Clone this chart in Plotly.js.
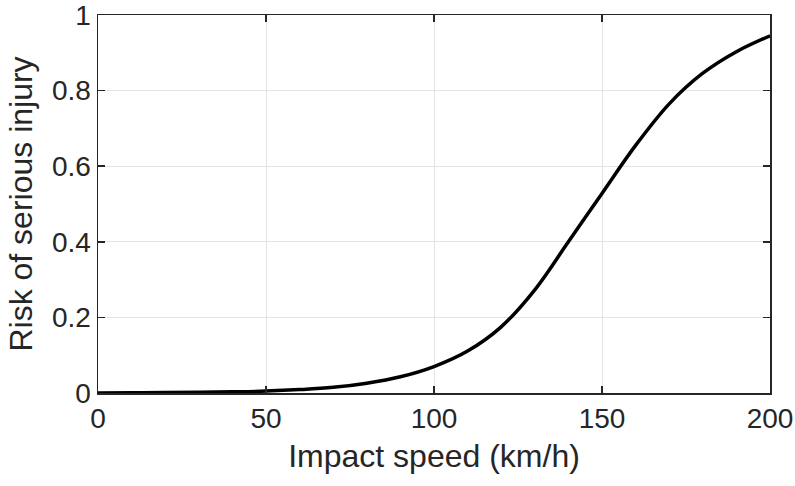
<!DOCTYPE html>
<html>
<head>
<meta charset="utf-8">
<script src="https://cdn.plot.ly/plotly-3.0.1.min.js"></script>
<style>html,body{margin:0;padding:0;background:#fff;}#chart{width:795px;height:486px;}</style>
</head>
<body>
<div id="chart"></div>
<script>
// Impact speed (km/h) and risk of serious injury
const speed = [0, 10, 20, 30, 40, 50, 60, 70, 80, 90, 100, 110, 120, 130, 140, 150, 160, 170, 180, 190, 200];
const risk  = [0.0003, 0.0006, 0.001, 0.0017, 0.003, 0.005, 0.009, 0.015, 0.026, 0.043, 0.070, 0.111, 0.175, 0.273, 0.400, 0.528, 0.655, 0.765, 0.846, 0.903, 0.945];
const xTicks = [0, 50, 100, 150, 200];
const yTicks = [0, 0.2, 0.4, 0.6, 0.8, 1];

const axisColor = '#262626';
const font = 'Liberation Sans, Arial, sans-serif';
const trace = {
  x: speed, y: risk, type: 'scatter', mode: 'lines',
  line: {color: '#000000', width: 3.5, shape: 'spline', smoothing: 1},
  hoverinfo: 'skip'
};
const common = {
  showline: true, mirror: 'ticks', linecolor: axisColor, linewidth: 1.5,
  ticks: 'inside', ticklen: 7, tickwidth: 1.5, tickcolor: axisColor,
  showgrid: true, gridcolor: '#e3e3e3', gridwidth: 1,
  zeroline: false, ticklabeloverflow: 'allow',
  tickfont: {family: font, size: 28, color: axisColor}
};
const layout = {
  width: 795, height: 486,
  margin: {l: 98, r: 25, t: 15, b: 93},
  paper_bgcolor: '#ffffff', plot_bgcolor: '#ffffff',
  showlegend: false,
  xaxis: Object.assign({}, common, {
    range: [0, 200], tickvals: xTicks, ticktext: xTicks.map(String),
    title: {text: 'Impact speed (km/h)', standoff: 11,
      font: {family: font, size: 32, color: axisColor}}
  }),
  yaxis: Object.assign({}, common, {
    range: [0, 1], tickvals: yTicks, ticktext: yTicks.map(String),
    title: {text: 'Risk of serious injury', standoff: 10,
      font: {family: font, size: 32, color: axisColor}}
  })
};
Plotly.newPlot('chart', [trace], layout, {displayModeBar: false, staticPlot: true});
</script>
</body>
</html>
